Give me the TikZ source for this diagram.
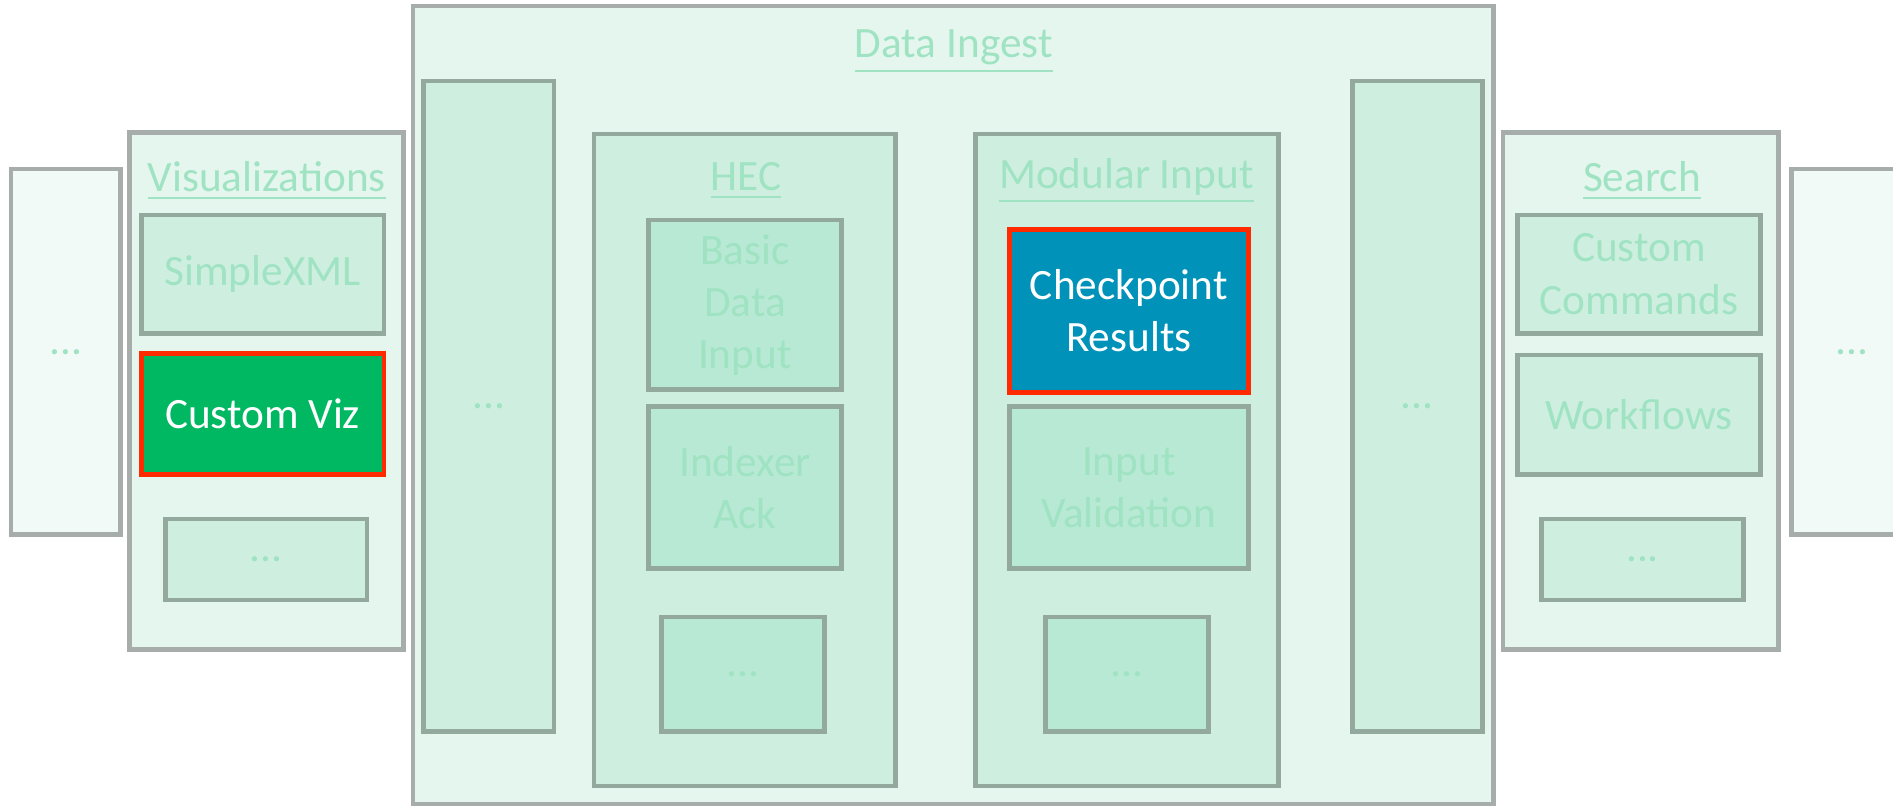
\documentclass[tikz,border=0pt]{standalone}
\usepackage{fontspec}
\setmainfont{Carlito}
\usetikzlibrary{positioning}
\definecolor{paleFill}{HTML}{F1FAF7}
\definecolor{groupFill}{HTML}{E5F6EE}
\definecolor{midFill}{HTML}{CEEFE0}
\definecolor{deepFill}{HTML}{B8E9D4}
\definecolor{outerLine}{HTML}{A7ADAA}
\definecolor{innerLine}{HTML}{93A99D}
\definecolor{fadeText}{HTML}{9FE3C3}
\definecolor{vizGreen}{HTML}{00B862}
\definecolor{ckptBlue}{HTML}{0092B9}
\definecolor{hiRed}{HTML}{FF2A00}

\begin{document}
\begin{tikzpicture}[line width=1.1pt,
                       every node/.style={font=\fontsize{10.2}{12.3}\selectfont,align=center,
                                          text=fadeText},
                       side box/.style={rectangle,draw=outerLine,fill=paleFill},
                       group box/.style={rectangle,draw=outerLine,fill=groupFill},
                       mid box/.style={rectangle,draw=innerLine,fill=midFill},
                       deep box/.style={rectangle,draw=innerLine,fill=deepFill},
                       hot box/.style={rectangle,draw=hiRed,text=white},
                       group label/.style={text=fadeText}
                      ]
   \clip (0,0) rectangle (15.68,6.68);
   \useasboundingbox (0,0) rectangle (15.68,6.68);
   \fill[white] (0,0) rectangle (15.68,6.68);

   % outer columns
   \node[side box,minimum width=0.91cm,minimum height=3.03cm] (farleft) at (0.545,3.765) {...};
   \node[side box,minimum width=1.00cm,minimum height=3.03cm] (farright) at (15.34,3.765) {...};

   % visualizations
   \node[group box,minimum width=2.27cm,minimum height=4.28cm] (viz) at (2.205,3.44) {};
   \node[group label] (vizlabel) at (2.21,5.18) {\underline{Visualizations}};
   \node[mid box,minimum width=2.01cm,minimum height=0.98cm] (simplexml) at (2.175,4.41) {SimpleXML};
   \node[hot box,fill=vizGreen,minimum width=2.01cm,minimum height=1.00cm] (customviz) at (2.175,3.25) {Custom Viz};
   \node[mid box,minimum width=1.67cm,minimum height=0.67cm] (vizmore) at (2.205,2.045) {...};

   % data ingest
   \node[group box,minimum width=8.95cm,minimum height=6.61cm] (ingest) at (7.895,3.325) {};
   \node[group label] (ingestlabel) at (7.9,6.25) {\underline{Data Ingest}};
   \node[mid box,minimum width=1.08cm,minimum height=5.39cm] (leftcol) at (4.05,3.315) {...};
   \node[mid box,minimum width=1.08cm,minimum height=5.39cm] (rightcol) at (11.74,3.315) {...};

   \node[mid box,minimum width=2.50cm,minimum height=5.40cm] (hec) at (6.17,2.87) {};
   \node[group label] (heclabel) at (6.18,5.18) {\underline{HEC}};
   \node[deep box,minimum width=1.60cm,minimum height=1.35cm] (basic) at (6.17,4.155) {Basic\\Data\\Input};
   \node[deep box,minimum width=1.60cm,minimum height=1.34cm] (indexer) at (6.17,2.64) {Indexer\\Ack};
   \node[deep box,minimum width=1.35cm,minimum height=0.95cm] (hecmore) at (6.155,1.095) {...};

   \node[mid box,minimum width=2.51cm,minimum height=5.40cm] (modinput) at (9.335,2.87) {};
   \node[group label] (modlabel) at (9.33,5.18) {\underline{Modular Input}};
   \node[hot box,fill=ckptBlue,minimum width=1.98cm,minimum height=1.35cm] (checkpoint) at (9.35,4.105) {Checkpoint\\Results};
   \node[deep box,minimum width=1.98cm,minimum height=1.34cm] (validation) at (9.35,2.64) {Input\\Validation};
   \node[deep box,minimum width=1.35cm,minimum height=0.95cm] (modmore) at (9.335,1.095) {...};

   % search
   \node[group box,minimum width=2.28cm,minimum height=4.28cm] (search) at (13.59,3.44) {};
   \node[group label] (searchlabel) at (13.6,5.18) {\underline{Search}};
   \node[mid box,minimum width=2.01cm,minimum height=0.98cm] (commands) at (13.575,4.41) {Custom\\Commands};
   \node[mid box,minimum width=2.01cm,minimum height=0.99cm] (workflows) at (13.575,3.245) {Workflows};
   \node[mid box,minimum width=1.67cm,minimum height=0.67cm] (searchmore) at (13.605,2.045) {...};
 \end{tikzpicture}
\end{document}
